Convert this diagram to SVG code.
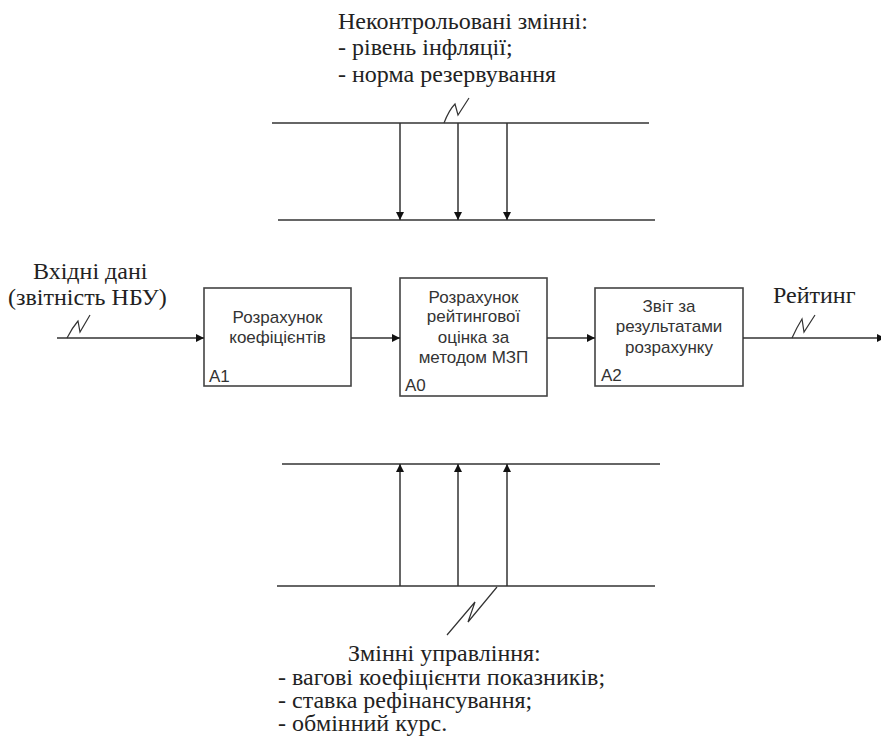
<svg xmlns="http://www.w3.org/2000/svg" width="881" height="753" viewBox="0 0 881 753">
<style>
.ser{font-family:"Liberation Serif","Times New Roman",serif;font-size:24px;fill:#222}
.san{font-family:"Liberation Sans",Arial,sans-serif;font-size:17px;fill:#333}
.box{fill:#fff;stroke:#444;stroke-width:1.6}
.ln{stroke:#333;stroke-width:1.5;fill:none}
.sq{stroke:#333;stroke-width:1.2;fill:none}
</style>
<defs>
<marker id="ah" viewBox="0 0 10 10" refX="10" refY="5" markerWidth="8" markerHeight="8" markerUnits="userSpaceOnUse" orient="auto">
<path d="M0,0 L10,5 L0,10 z" fill="#111"/>
</marker>
</defs>
<rect width="881" height="753" fill="#fff"/>

<g id="top-label">
<text class="ser" x="338" y="29">Неконтрольовані змінні:</text>
<text class="ser" x="338" y="55">- рівень інфляції;</text>
<text class="ser" x="338" y="82">- норма резервування</text>
</g>

<g id="bottom-label">
<text class="ser" x="348" y="661">Змінні управління:</text>
<text class="ser" x="278" y="685">- вагові коефіцієнти показників;</text>
<text class="ser" x="278" y="708">- ставка рефінансування;</text>
<text class="ser" x="278" y="731">- обмінний курс.</text>
</g>

<g id="input-label">
<text class="ser" x="33" y="279">Вхідні дані</text>
<text class="ser" x="8" y="305">(звітність НБУ)</text>
</g>

<g id="output-label">
<text class="ser" x="773" y="303">Рейтинг</text>
</g>

<g id="A1">
<rect class="box" x="204" y="288" width="147" height="98"/>
<text class="san" x="277.5" y="323" text-anchor="middle">Розрахунок</text>
<text class="san" x="277.5" y="343" text-anchor="middle">коефіцієнтів</text>
<text class="san" x="209" y="382">A1</text>
</g>

<g id="A0">
<rect class="box" x="400" y="278" width="147" height="118"/>
<text class="san" x="473.5" y="303" text-anchor="middle">Розрахунок</text>
<text class="san" x="473.5" y="322" text-anchor="middle">рейтингової</text>
<text class="san" x="473.5" y="343" text-anchor="middle">оцінка за</text>
<text class="san" x="473.5" y="363" text-anchor="middle">методом МЗП</text>
<text class="san" x="405" y="391">A0</text>
</g>

<g id="A2">
<rect class="box" x="595" y="288" width="148" height="98"/>
<text class="san" x="669" y="312" text-anchor="middle">Звіт за</text>
<text class="san" x="669" y="332" text-anchor="middle">результатами</text>
<text class="san" x="669" y="353" text-anchor="middle">розрахунку</text>
<text class="san" x="601" y="381">A2</text>
</g>

<g id="connectors">
<!-- top bus -->
<line class="ln" x1="272" y1="123" x2="649" y2="123"/>
<line class="ln" x1="278" y1="220" x2="655" y2="220"/>
<line class="ln" x1="400" y1="123" x2="400" y2="220" marker-end="url(#ah)"/>
<line class="ln" x1="458" y1="123" x2="458" y2="220" marker-end="url(#ah)"/>
<line class="ln" x1="507" y1="123" x2="507" y2="220" marker-end="url(#ah)"/>
<path class="sq" d="M444,123 Q449,110 455,104 L458,115 L469,98"/>
<!-- bottom bus -->
<line class="ln" x1="282" y1="464" x2="660" y2="464"/>
<line class="ln" x1="277" y1="586" x2="655" y2="586"/>
<line class="ln" x1="400" y1="586" x2="400" y2="464" marker-end="url(#ah)"/>
<line class="ln" x1="458" y1="586" x2="458" y2="464" marker-end="url(#ah)"/>
<line class="ln" x1="507" y1="586" x2="507" y2="464" marker-end="url(#ah)"/>
<path class="sq" d="M497,587 L468,622 L475,602 L447,635"/>
<!-- main flow -->
<line class="ln" x1="57" y1="338" x2="204" y2="338" marker-end="url(#ah)"/>
<path class="sq" d="M67,338 Q72,328 78,321 L80,332 L90,315"/>
<line class="ln" x1="351" y1="338" x2="400" y2="338" marker-end="url(#ah)"/>
<line class="ln" x1="547" y1="338" x2="595" y2="338" marker-end="url(#ah)"/>
<line class="ln" x1="743" y1="338" x2="885" y2="338" marker-end="url(#ah)"/>
<path class="sq" d="M792,338 Q797,327 802,319 L804,332 L815,315"/>
</g>
</svg>
